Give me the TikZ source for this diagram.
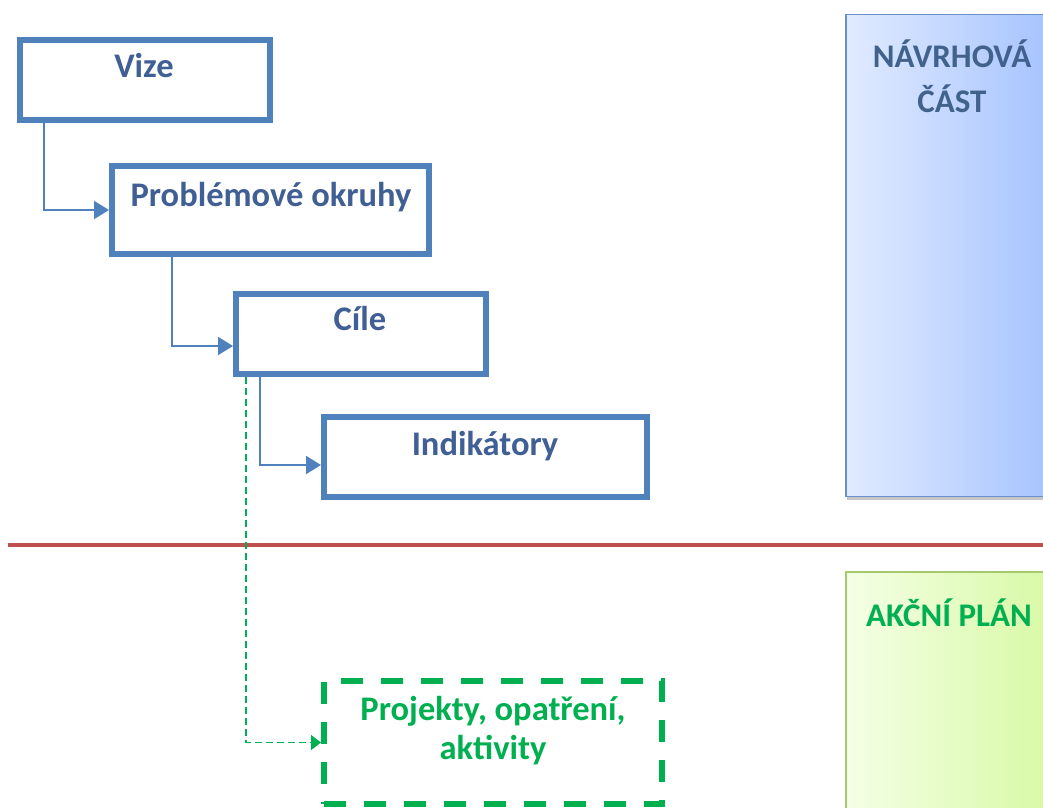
\documentclass[tikz,border=0pt]{standalone}
\usepackage{fontspec}
\setmainfont{Carlito}
\usetikzlibrary{arrows.meta,shadows}
\definecolor{boxblue}{HTML}{4F81BD}
\definecolor{txtblue}{HTML}{405F95}
\definecolor{grn}{HTML}{00B050}
\definecolor{redline}{HTML}{C0504D}
\definecolor{panelblueL}{HTML}{E1EBFF}
\definecolor{panelblueR}{HTML}{A4C2FF}
\definecolor{panelblueB}{HTML}{6A8FC9}
\definecolor{panelgrnL}{HTML}{F4FFE6}
\definecolor{panelgrnR}{HTML}{D7F9A3}
\definecolor{panelgrnB}{HTML}{A6C96E}
\definecolor{paneltxt}{HTML}{42628E}
\begin{document}
\begin{tikzpicture}[x=1pt,y=-1pt,
  bluebox/.style={draw=boxblue, line width=6pt, inner sep=0pt, fill=white},
  greenbox/.style={draw=grn, line width=6pt, inner sep=0pt, dash pattern=on 22pt off 18pt},
  boxtext/.style={anchor=base, font=\fontsize{34.5}{40}\selectfont\bfseries, text=txtblue, inner sep=0pt},
  grntext/.style={anchor=base, font=\fontsize{34.5}{40}\selectfont\bfseries, text=grn, inner sep=0pt},
  paneltext/.style={anchor=base, font=\fontsize{33}{40}\selectfont\bfseries, inner sep=0pt},
  conn/.style={draw=boxblue, line width=2pt, -{Triangle[length=15pt,width=18pt]}},
  gconn/.style={draw=grn, line width=1.5pt, dash pattern=on 7pt off 4pt, -{Triangle[length=10pt,width=15pt]}},
  redrule/.style={draw=redline, line width=3.5pt},
  bluepanel/.style={draw=panelblueB, line width=1.5pt, left color=panelblueL, right color=panelblueR, inner sep=0pt,
     drop shadow={shadow xshift=1pt, shadow yshift=-3pt, opacity=0.45}},
  greenpanel/.style={draw=panelgrnB, line width=1.5pt, left color=panelgrnL, right color=panelgrnR, inner sep=0pt}
]
\useasboundingbox (0,0) rectangle (1043,807);

% right panels
\node[bluepanel, minimum width=212pt, minimum height=482pt] (navrh) at (952,255.5) {};
\node[paneltext, text=paneltxt] (navrhA) at (952,67) {NÁVRHOVÁ};
\node[paneltext, text=paneltxt] (navrhB) at (952,112) {ČÁST};
\node[greenpanel, minimum width=212pt, minimum height=260pt] (akcni) at (952,702) {};
\node[paneltext, text=grn] (akcniA) at (949,626) {AKČNÍ PLÁN};

% separator
\coordinate (redL) at (8,545);
\coordinate (redR) at (1043,545);
\draw[redrule] (redL) -- (redR);

% boxes
\node[bluebox, minimum width=250.5pt, minimum height=80pt] (vize) at (144.75,80) {};
\node[boxtext] (vizeT) at (144,77) {Vize};
\node[bluebox, minimum width=317pt, minimum height=88pt] (prob) at (270.5,210) {};
\node[boxtext] (probT) at (271,206) {Problémové okruhy};
\node[bluebox, minimum width=250pt, minimum height=80pt] (cile) at (361,334) {};
\node[boxtext] (cileT) at (360,330) {Cíle};
\node[bluebox, minimum width=323pt, minimum height=80pt] (ind) at (485.5,457) {};
\node[boxtext] (indT) at (485,455) {Indikátory};
\node[greenbox, minimum width=338pt, minimum height=123pt] (proj) at (493,742.5) {};
\node[grntext] (projA) at (493,720) {Projekty, opatření,};
\node[grntext] (projB) at (493,759) {aktivity};

% connectors
\draw[conn] ([xshift=27.5pt]vize.south west) |- (prob.west);
\draw[conn] ([xshift=63pt]prob.south west) |- ([yshift=-12pt]cile.west);
\draw[conn] ([xshift=27pt]cile.south west) |- ([yshift=-8pt]ind.west);
\draw[gconn] ([xshift=13pt]cile.south west) |- (proj.west);
\end{tikzpicture}
\end{document}
